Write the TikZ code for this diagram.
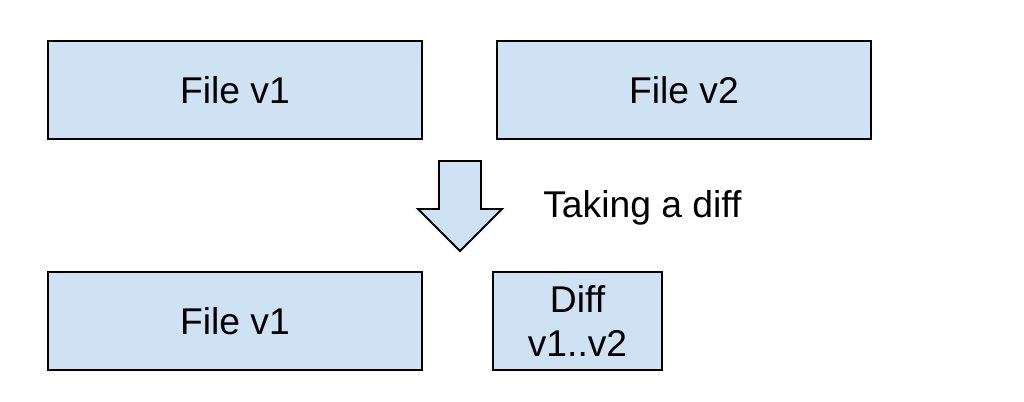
\documentclass[tikz,border=0pt]{standalone}
\usepackage{fontspec}
\setmainfont{Liberation Sans}
\usepackage{xcolor}
\usetikzlibrary{positioning}
\definecolor{boxblue}{HTML}{CFE2F3}

\tikzset{
    filebox/.style={draw, line width=1.4pt, fill=boxblue, minimum height=2.45cm, inner sep=0pt, align=center},
    bigtext/.style={font=\fontsize{26.5}{31}\selectfont}
}

\begin{document}
\begin{tikzpicture}
    \useasboundingbox (0,0) rectangle (25.6,-10.05);

    \node[filebox, bigtext, minimum width=9.35cm] (top1) at (5.875, -2.25) {File v1};
    \node[filebox, bigtext, minimum width=9.35cm] (top2) at (17.1, -2.25) {File v2};
    \node[filebox, bigtext, minimum width=9.35cm] (bot1) at (5.875, -8.025) {File v1};
    \node[filebox, bigtext, minimum width=4.225cm] (diff) at (14.4375, -8.025) {Diff\\v1..v2};

    % block arrow
    \draw[line width=1.4pt, fill=boxblue, line join=miter]
        (10.975, -4.025) -- (12.025, -4.025) -- (12.025, -5.225) -- (12.55, -5.225)
        -- (11.5, -6.275) coordinate (tip) -- (10.45, -5.225) -- (10.975, -5.225) -- cycle;
    \node[bigtext, anchor=base west, inner sep=0pt] (take) at (13.575, -5.45) {Taking a diff};
\end{tikzpicture}
\end{document}
